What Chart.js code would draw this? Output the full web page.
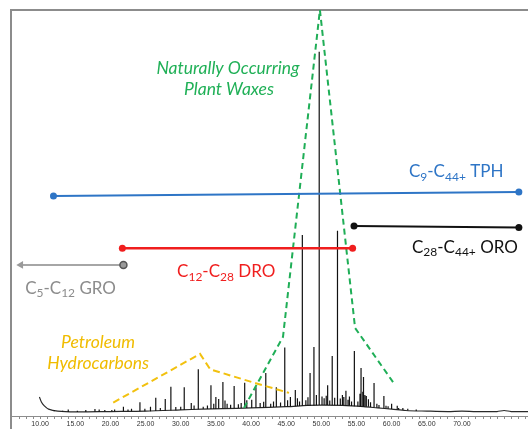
<!DOCTYPE html>
<html>
<head>
<meta charset="utf-8">
<script src="https://cdn.jsdelivr.net/npm/chart.js@4"></script>
<style>
  html, body { margin: 0; padding: 0; background: #fff; }
  #wrap { width: 528px; height: 429px; position: relative; }
</style>
</head>
<body>
<div id="wrap"><canvas id="chromatogram"></canvas></div>
<script>
// baseline of the trace (retention time, min / relative response)
var baseTimes = [9.9, 10.2, 10.6, 11.2, 12.5, 15, 20, 25, 30, 33, 36, 40, 45, 48, 50, 53, 56, 58, 60, 62, 65, 68, 70, 72, 75, 76, 77, 79.4];
var baseLevels = [4.7, 3.4, 2.5, 1.7, 1.2, 1.0, 1.1, 1.2, 1.5, 1.7, 1.8, 2.0, 2.3, 2.6, 2.7, 2.6, 2.3, 2.0, 1.7, 1.35, 1.2, 1.1, 1.2, 1.1, 1.1, 1.35, 1.1, 1.1];

// peaks
var peakTimes = [12.0, 13.2, 14.0, 15.3, 16.5, 17.8, 18.4, 19.2, 20.2, 20.6,
    21.85, 22.5, 23.0, 24.2, 24.9, 25.7, 26.45, 27.1, 27.8, 28.6,
    29.3, 30.0, 30.5, 31.5, 31.9, 32.5, 33.2, 33.8, 34.3, 34.7,
    35.0, 35.4, 36.0, 36.3, 36.6, 37.1, 37.6, 38.2, 38.6, 39.1,
    39.4, 40.1, 40.7, 41.3, 41.8, 42.1, 42.8, 43.2, 43.6, 44.2,
    44.8, 45.2, 45.6, 46.3, 46.6, 46.9, 47.3, 47.8, 48.1, 48.4,
    48.95, 49.3, 49.7, 50.1, 50.4, 50.7, 50.9, 51.2, 51.55, 51.9,
    52.3, 52.7, 53.0, 53.2, 53.5, 53.8, 54.0, 54.3, 54.7, 55.2,
    55.5, 55.65, 55.9, 56.0, 56.2, 56.4, 56.7, 57.0, 57.5, 57.9,
    58.2, 58.9, 59.2, 59.5, 60.0, 60.8, 61.0, 61.6, 62.3, 63.5];
var peakTops = [1.4, 1.3, 1.6, 1.3, 1.5, 1.7, 1.6, 1.5, 1.5, 1.6,
    2.3, 1.6, 1.8, 3.4, 1.8, 2.3, 4.5, 2.0, 4.2, 7.2,
    2.2, 2.3, 7.1, 3.2, 2.6, 11.5, 2.3, 2.6, 7.6, 3.0,
    4.7, 4.2, 8.4, 3.8, 3.0, 2.8, 7.4, 2.9, 3.2, 8.2,
    3.9, 4.0, 7.1, 3.2, 3.5, 10.6, 3.0, 3.6, 7.1, 3.3,
    16.9, 3.9, 4.7, 6.4, 4.4, 3.6, 44.6, 3.9, 4.6, 10.6,
    17.0, 5.2, 89.7, 4.8, 4.4, 5.0, 7.6, 3.8, 14.8, 4.5,
    45.6, 4.3, 5.2, 4.7, 6.2, 4.0, 4.8, 3.6, 16.0, 3.6,
    5.5, 11.8, 6.0, 9.6, 5.2, 4.9, 4.1, 3.4, 8.1, 3.0,
    2.7, 4.9, 2.5, 2.4, 3.0, 2.5, 2.0, 2.0, 1.8, 1.6];
var peakBases = [1.15, 1.1, 1.0, 1.0, 1.0, 1.05, 1.05, 1.1, 1.1, 1.1,
    1.15, 1.15, 1.15, 1.2, 1.2, 1.2, 1.25, 1.3, 1.3, 1.35,
    1.4, 1.45, 1.5, 1.6, 1.6, 1.65, 1.7, 1.7, 1.75, 1.75,
    1.75, 1.8, 1.8, 1.85, 1.85, 1.85, 1.9, 1.95, 1.95, 2.0,
    2.0, 2.0, 2.05, 2.1, 2.1, 2.1, 2.15, 2.2, 2.2, 2.25,
    2.3, 2.3, 2.35, 2.4, 2.45, 2.45, 2.5, 2.5, 2.55, 2.55,
    2.6, 2.65, 2.7, 2.7, 2.7, 2.7, 2.7, 2.7, 2.65, 2.65,
    2.65, 2.6, 2.6, 2.6, 2.55, 2.5, 2.5, 2.45, 2.4, 2.35,
    2.3, 2.3, 2.3, 2.3, 2.3, 2.25, 2.25, 2.2, 2.1, 2.05,
    2.0, 1.9, 1.85, 1.8, 1.7, 1.6, 1.55, 1.45, 1.35, 1.25];

// carbon ranges: TPH, ORO, DRO, GRO
var bandColors = ["#2e75c6", "#111111", "#f01e1e", "#a6a6a6"];
var bandStart = [11.9, 54.65, 21.7, 21.85];
var bandEnd = [78.1, 78.1, 54.45, 7.25];
var bandStartLevel = [54.2, 46.8, 41.3, 37.2];
var bandEndLevel = [55.2, 46.4, 41.3, 37.2];

// envelopes
var waxTimes = [39.0, 44.55, 49.8, 54.8, 60.3];
var waxLevels = [2.0, 19.5, 100, 21.7, 8.1];
var petroTimes = [20.4, 32.75, 34.2, 40.8, 45.4];
var petroLevels = [3.3, 15.3, 11.5, 8.0, 5.7];

// x axis
var tickValues = [10, 15, 20, 25, 30, 35, 40, 45, 50, 55, 60, 65, 70];

var baseline = baseTimes.map(function(t, i) { return { x: t, y: baseLevels[i] }; });

var spikes = [];
peakTimes.forEach(function(t, i) {
    spikes.push({ x: t, y: peakBases[i] });
    spikes.push({ x: t, y: peakTops[i] });
    spikes.push({ x: t, y: null });
});

var bandSets = bandStart.map(function(s, i) {
    var gro = i == 3;
    return {
        data: [{ x: s, y: bandStartLevel[i] }, { x: bandEnd[i], y: bandEndLevel[i] }],
        borderColor: bandColors[i],
        borderWidth: i == 2 ? 2.5 : 2,
        pointRadius: gro ? [3.5, 4.5] : 3.5,
        pointStyle: gro ? ["circle", "triangle"] : "circle",
        rotation: gro ? [0, -90] : 0,
        pointBackgroundColor: gro ? "#9a9a9a" : bandColors[i],
        pointBorderColor: gro ? ["#555555", "#a6a6a6"] : bandColors[i],
        pointBorderWidth: gro ? [1.5, 0] : 0,
        order: 0
    };
});

function xy(ts, vs) {
    return ts.map(function(t, i) { return { x: t, y: vs[i] }; });
}

// text notes with subscripts: [text, isSub]
var notes = [
    { parts: [["C", 0], ["9", 1], ["-C", 0], ["44+", 1], [" TPH", 0]], x: 62.47, y: 60.1, color: "#2e75c6", size: 17, align: "left" },
    { parts: [["C", 0], ["28", 1], ["-C", 0], ["44+", 1], [" ORO", 0]], x: 62.9, y: 41.6, color: "#111111", size: 17, align: "left" },
    { parts: [["C", 0], ["12", 1], ["-C", 0], ["28", 1], [" DRO", 0]], x: 29.48, y: 35.5, color: "#f01e1e", size: 17, align: "left" },
    { parts: [["C", 0], ["5", 1], ["-C", 0], ["12", 1], [" GRO", 0]], x: 7.87, y: 31.5, color: "#8c8c8c", size: 17, align: "left" },
    { parts: [["Naturally Occurring", 0]], x: 36.73, y: 85.7, color: "#20b057", size: 17.5, italic: true, align: "center" },
    { parts: [["Plant Waxes", 0]], x: 36.87, y: 80.5, color: "#20b057", size: 17.5, italic: true, align: "center" },
    { parts: [["Petroleum", 0]], x: 18.25, y: 18.2, color: "#f0bc00", size: 17.5, italic: true, align: "center" },
    { parts: [["Hydrocarbons", 0]], x: 18.25, y: 13.05, color: "#f0bc00", size: 17.5, italic: true, align: "center" }
];

var notePlugin = {
    id: "notes",
    afterDatasetsDraw: function(chart) {
        var ctx = chart.ctx;
        var xs = chart.scales.x, ys = chart.scales.y;
        ctx.save();
        ctx.textBaseline = "middle";
        notes.forEach(function(n) {
            var style = n.italic ? "italic " : "";
            var big = style + n.size + "px Lato";
            var small = style + Math.round(n.size * 0.68) + "px Lato";
            var w = 0;
            n.parts.forEach(function(p) {
                ctx.font = p[1] ? small : big;
                w += ctx.measureText(p[0]).width;
            });
            var px = xs.getPixelForValue(n.x);
            var py = ys.getPixelForValue(n.y);
            if (n.align == "center") px -= w / 2;
            ctx.fillStyle = n.color;
            n.parts.forEach(function(p) {
                ctx.font = p[1] ? small : big;
                ctx.fillText(p[0], px, p[1] ? py + n.size * 0.28 : py);
                px += ctx.measureText(p[0]).width;
            });
        });
        ctx.restore();
    }
};

var framePlugin = {
    id: "frame",
    beforeDatasetsDraw: function(chart) {
        var a = chart.chartArea, ctx = chart.ctx;
        ctx.save();
        ctx.strokeStyle = "#8c8c8c";
        ctx.lineWidth = 2;
        ctx.beginPath();
        ctx.moveTo(a.left - 1, chart.height);
        ctx.lineTo(a.left - 1, a.top);
        ctx.lineTo(chart.width, a.top);
        ctx.stroke();
        ctx.restore();
    }
};

new Chart(document.getElementById("chromatogram").getContext("2d"), {
    type: "line",
    data: {
        datasets: bandSets.concat([
            {
                data: xy(waxTimes, waxLevels),
                borderColor: "#1fae57",
                borderWidth: 2,
                borderDash: [6, 4],
                pointRadius: 0,
                order: 1
            },
            {
                data: xy(petroTimes, petroLevels),
                borderColor: "#f2c10f",
                borderWidth: 2,
                borderDash: [7, 4],
                pointRadius: 0,
                order: 1
            },
            {
                data: spikes,
                borderColor: "#111111",
                borderWidth: 1.2,
                pointRadius: 0,
                spanGaps: false,
                order: 2
            },
            {
                data: baseline,
                borderColor: "#2a2a2a",
                borderWidth: 1.2,
                pointRadius: 0,
                tension: 0.3,
                order: 2
            }
        ])
    },
    options: {
        responsive: true,
        maintainAspectRatio: false,
        animation: false,
        layout: { autoPadding: false, padding: { left: 12, top: 10, right: 0, bottom: 0 } },
        plugins: {
            legend: { display: false },
            tooltip: { enabled: false }
        },
        scales: {
            x: {
                type: "linear",
                min: 6,
                max: 79.4,
                afterBuildTicks: function(scale) {
                    var t = [];
                    for (var v = 7; v <= 79; v++) t.push({ value: v });
                    scale.ticks = t;
                },
                afterFit: function(scale) {
                    scale.height = 13;
                    scale.paddingLeft = 0;
                    scale.paddingRight = 0;
                },
                ticks: {
                    autoSkip: false,
                    maxRotation: 0,
                    padding: 1,
                    color: "#333333",
                    font: { family: "Liberation Sans", size: 7 },
                    callback: function(v) {
                        return tickValues.indexOf(v) >= 0 ? v.toFixed(2) : "";
                    }
                },
                grid: { drawOnChartArea: false, tickLength: 3, color: "#8c8c8c" },
                border: { color: "#8c8c8c", width: 1 }
            },
            y: {
                display: false,
                min: 0,
                max: 100
            }
        }
    },
    plugins: [framePlugin, notePlugin]
});
</script>
</body>
</html>
